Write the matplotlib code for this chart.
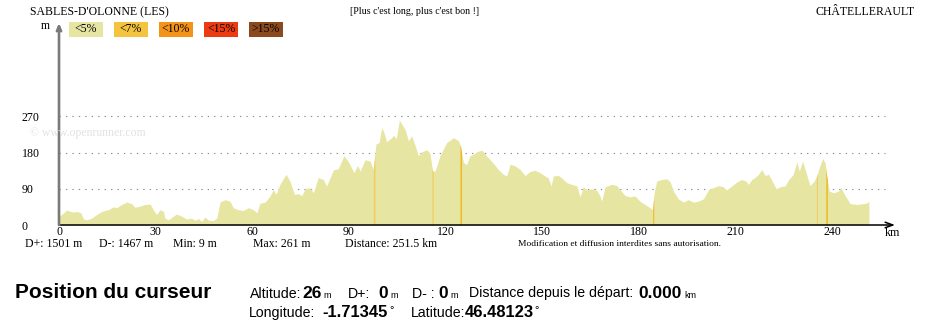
import numpy as np
import matplotlib.pyplot as plt
from matplotlib.patches import Rectangle

# profil altimetrique (distance en km, altitude en m)
dist_km = [0.0, 0.8, 2.4, 3.4, 4.5, 5.5, 6.8, 7.6, 8.6, 10.1, 11.7, 13.3, 15.3, 16.9, 17.9,
           19.5, 21.0, 22.6, 23.6, 25.2, 26.7, 28.3, 29.3, 30.3, 31.4, 32.4, 32.9, 34.0, 35.5,
           36.5, 38.1, 39.6, 41.2, 42.2, 43.3, 44.3, 45.3, 46.4, 47.9, 49.0, 50.0, 51.6, 53.1,
           54.1, 55.7, 57.2, 58.8, 60.4, 61.4, 62.4, 64.0, 65.5, 66.6, 67.4, 68.6, 70.5, 71.7,
           73.1, 74.3, 75.4, 76.4, 77.9, 79.0, 80.5, 82.1, 83.1, 85.2, 86.7, 88.5, 89.9, 91.6,
           92.7, 93.5, 95.0, 96.6, 97.6, 98.4, 99.4, 100.2, 100.9, 101.7, 103.3, 104.0, 104.7,
           105.7, 106.4, 107.5, 108.5, 109.5, 110.6, 111.6, 112.6, 114.2, 115.2, 116.0, 116.8,
           118.3, 120.4, 122.5, 124.1, 124.7, 125.6, 126.6, 127.6, 128.7, 129.7, 131.3, 132.3,
           133.8, 135.4, 136.4, 138.0, 139.0, 140.1, 141.6, 143.2, 144.7, 146.3, 147.8, 149.4,
           150.9, 151.9, 152.8, 153.5, 155.1, 156.1, 157.7, 159.2, 160.8, 161.8, 162.8, 163.9,
           165.4, 167.0, 168.0, 168.5, 169.6, 171.6, 173.2, 174.2, 175.8, 177.3, 178.9, 180.4,
           182.0, 183.5, 184.3, 184.8, 185.6, 187.2, 188.7, 189.8, 190.8, 192.3, 193.9, 195.4,
           197.0, 198.5, 200.1, 201.7, 203.2, 204.8, 206.3, 207.3, 208.9, 210.5, 212.0, 213.3,
           214.1, 215.1, 216.1, 217.2, 218.2, 219.3, 220.3, 221.3, 222.7, 223.9, 225.5, 226.5,
           228.0, 229.1, 229.9, 230.9, 232.0, 233.2, 234.5, 235.3, 236.1, 237.1, 237.9, 238.4,
           239.2, 240.5, 242.0, 242.8, 244.1, 245.7, 247.8, 249.8, 250.9, 251.5]
elev_m = [22, 26, 37, 34, 32, 34, 30, 15, 13, 17, 26, 34, 38, 45, 43,
          51, 57, 53, 44, 47, 51, 52, 38, 26, 38, 34, 17, 13, 22,
          27, 22, 15, 17, 12, 16, 9, 20, 12, 11, 17, 57, 63, 59,
          43, 38, 36, 43, 38, 30, 54, 57, 72, 88, 76, 101, 126, 109,
          76, 78, 73, 90, 93, 80, 118, 113, 97, 137, 140, 172, 157, 130,
          148, 134, 162, 159, 138, 201, 205, 242, 230, 207, 217, 223, 214,
          261, 251, 237, 209, 222, 197, 172, 182, 187, 178, 134, 134,
          172, 205, 217, 209, 195, 155, 150, 172, 176, 182, 186, 176,
          163, 148, 138, 126, 122, 151, 147, 138, 123, 133, 136, 130,
          122, 117, 97, 122, 123, 117, 105, 101, 97, 70, 95, 88,
          90, 86, 72, 59, 95, 101, 98, 88, 73, 70, 72, 59,
          51, 43, 38, 80, 109, 113, 115, 107, 84, 65, 57, 63,
          57, 59, 65, 88, 93, 98, 95, 87, 97, 107, 113, 109,
          101, 113, 118, 126, 138, 123, 126, 112, 90, 95, 97, 112,
          126, 157, 134, 159, 130, 98, 109, 122, 143, 165, 155, 122,
          84, 80, 84, 93, 73, 53, 51, 53, 55, 59]

# passages en pente plus forte (debut, fin en km)
steep_start = [97.6, 115.8, 124.5, 184.3, 235.2, 238.1]
steep_end = [98.1, 116.2, 125.0, 184.7, 235.5, 238.6]
steep_color = ['#f2cc62', '#f2cc62', '#efbb2a', '#efc03a', '#f2cc62', '#efbb2a']

slope_labels = ['<5%', '<7%', '<10%', '<15%', '>15%']
slope_colors = ['#e6e6a2', '#f5c43e', '#f39419', '#ec3b12', '#8b4a1d']

x_ticks = [0, 30, 60, 90, 120, 150, 180, 210, 240]
y_ticks = [0, 90, 180, 270]

stats = ['D+: 1501 m', 'D-: 1467 m', 'Min: 9 m', 'Max: 261 m', 'Distance: 251.5 km']
stats_x = [25, 99, 173, 253, 345]

W, H = 934, 324
SERIF = 'Liberation Serif'
SANS = 'Liberation Sans'

fig = plt.figure(figsize=(W / 100, H / 100), dpi=100)


def put(x, y, s, **kw):
    # position en pixels depuis le coin haut gauche
    return fig.text(x / W, 1 - y / H, s, **kw)


ax = fig.add_axes([59 / W, 99 / H, 836 / W, 201 / H])
ax.set_xlim(0, 259.6)
ax.set_ylim(0, 499.5)
for s in ax.spines.values():
    s.set_visible(False)

# grille pointillee
ax.hlines(y_ticks[1:], 0, 256.5, colors='#8a8a8a', linestyles=(0, (1.2, 4.6)), lw=0.8, zorder=1)

# profil
ax.fill_between(dist_km, elev_m, 0, color=slope_colors[0], lw=0, zorder=2)
for a, b, c in zip(steep_start, steep_end, steep_color):
    xs = np.linspace(a, b, 6)
    ax.fill_between(xs, np.interp(xs, dist_km, elev_m), 0, color=c, lw=0, zorder=3)

# axes avec fleches
ax.annotate('', xy=(259.6, 0), xytext=(0, 0), annotation_clip=False, zorder=5,
            arrowprops=dict(arrowstyle='->,head_length=0.55,head_width=0.2',
                            color='black', lw=1.1, shrinkA=0, shrinkB=0))
ax.annotate('', xy=(0, 502), xytext=(0, 0), annotation_clip=False, zorder=5,
            arrowprops=dict(arrowstyle='->,head_length=0.35,head_width=0.15',
                            color='#7a7a7a', lw=1.9, shrinkA=0, shrinkB=0))

ax.set_xticks(x_ticks)
ax.set_xticklabels([str(t) for t in x_ticks], fontfamily=SERIF, fontsize=8.6)
ax.set_yticks(y_ticks)
ax.set_yticklabels([str(t) for t in y_ticks], fontfamily=SERIF, fontsize=8.6)
ax.tick_params(axis='x', length=0, pad=1)
ax.tick_params(axis='y', length=0, pad=27)
for lbl in ax.get_yticklabels():
    lbl.set_horizontalalignment('left')

# textes du haut
put(30, 12, "SABLES-D'OLONNE (LES)", fontfamily=SERIF, fontsize=8.5, va='center')
put(350, 12, "[Plus c'est long, plus c'est bon !]", fontfamily=SERIF, fontsize=7.2, va='center')
put(915, 12, "CHÂTELLERAULT", fontfamily=SERIF, fontsize=8.5, va='center', ha='right')
put(50, 26, "m", fontfamily=SERIF, fontsize=8.5, va='center', ha='right')

# legende des pentes
box_x = [69, 114, 159, 204, 249]
for x0, lab, col in zip(box_x, slope_labels, slope_colors):
    fig.patches.append(Rectangle((x0 / W, 1 - 37.3 / H), 34 / W, 15.6 / H,
                                 transform=fig.transFigure, color=col, lw=0))
    put(x0 + 17, 29.5, lab, fontfamily=SERIF, fontsize=8.5, va='center', ha='center')

put(30, 133, "© www.openrunner.com", fontfamily=SERIF, fontsize=8.5, va='center', color='#e2e2e2')
put(885, 233, "km", fontfamily=SERIF, fontsize=8.6, va='center')

for x0, s in zip(stats_x, stats):
    put(x0, 244, s, fontfamily=SERIF, fontsize=8.5, va='center')
put(518, 243.5, "Modification et diffusion interdites sans autorisation.",
    fontfamily=SERIF, fontsize=6.8, va='center')

# position du curseur
put(15, 298, "Position du curseur", fontfamily=SANS, fontsize=15, fontweight='bold', va='baseline')

row1 = [(250, "Altitude:", 'lab'), (302, "26", 'num'), (323, "m", 'unit'),
        (348, "D+:", 'lab'), (378, "0", 'num'), (390, "m", 'unit'),
        (412, "D- :", 'lab'), (438, "0", 'num'), (450, "m", 'unit'),
        (469, "Distance depuis le départ:", 'lab'), (638, "0.000", 'num'), (684, "km", 'unit')]
row2 = [(249, "Longitude:", 'lab'), (322, "-1.71345", 'num2'), (389, "°", 'deg'),
        (411, "Latitude:", 'lab'), (465, "46.48123", 'num2'), (534, "°", 'deg')]
styles = {'lab': dict(fontsize=10.2, fontweight='normal'),
          'num': dict(fontsize=12.5, fontweight='bold'),
          'num2': dict(fontsize=11.9, fontweight='bold'),
          'unit': dict(fontsize=6.5, fontweight='normal'),
          'deg': dict(fontsize=8, fontweight='normal')}
for yb, row in ((297.5, row1), (317, row2)):
    for x0, s, kind in row:
        dy = -4 if kind == 'deg' else 0
        put(x0, yb + dy, s, fontfamily=SANS, va='baseline', color='black', **styles[kind])

fig.savefig('out.png', dpi=100)
